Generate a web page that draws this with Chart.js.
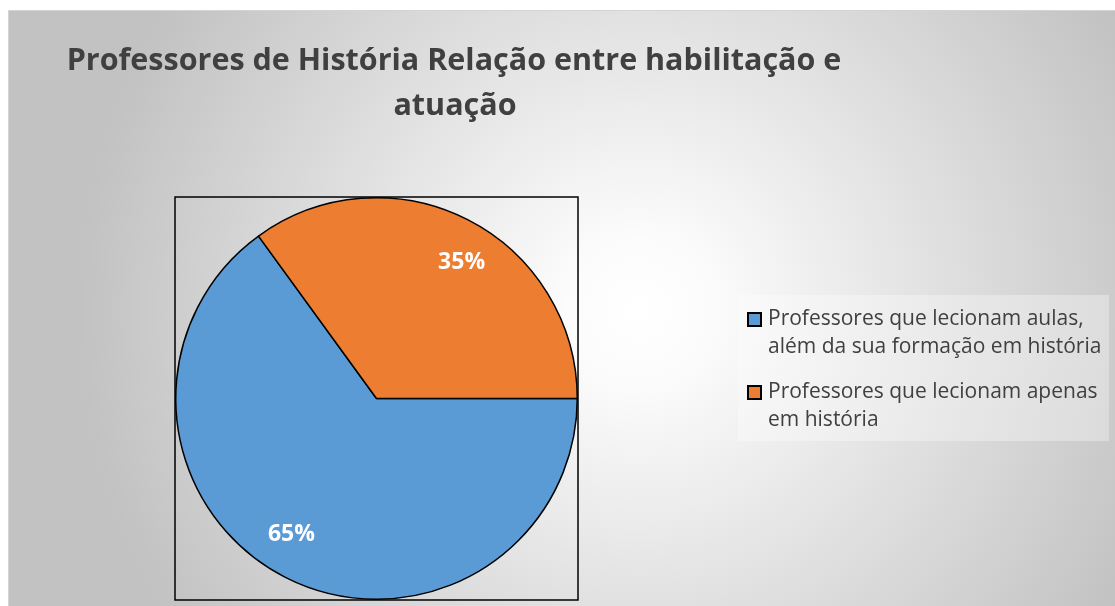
<!DOCTYPE html>
<html>
<head>
<meta charset="utf-8">
<script src="https://cdn.jsdelivr.net/npm/chart.js@4"></script>
<style>
html,body{margin:0;padding:0;background:#ffffff;}
#wrap{position:absolute;left:8px;top:10px;width:1107px;height:596px;}
canvas{display:block;}
</style>
</head>
<body>
<div id="wrap"><canvas id="c" width="1107" height="596"></canvas></div>
<script>
const titleLines = ['Professores de História Relação entre habilitação e', 'atuação'];
const categories = [
  ['Professores que lecionam aulas,', 'além da sua formação em história'],
  ['Professores que lecionam apenas', 'em história']
];
const values = [65, 35];
const colors = ['#5B9BD5', '#ED7D31'];

const FONT = '"Open Sans", "Noto Sans", sans-serif';

const bgPlugin = {
  id: 'bg',
  beforeDraw(chart) {
    const {ctx, width, height} = chart;
    ctx.save();
    const g = ctx.createRadialGradient(630, 300, 0, 630, 300, 560);
    g.addColorStop(0, '#ffffff');
    g.addColorStop(0.12, '#fcfcfc');
    g.addColorStop(1, '#c2c2c2');
    ctx.fillStyle = g;
    ctx.fillRect(0, 0, width, height);
    ctx.strokeStyle = '#d4d4d4';
    ctx.lineWidth = 1;
    ctx.strokeRect(0.5, 0.5, width, height);
    ctx.restore();
  },
  afterDatasetsDraw(chart) {
    const {ctx, chartArea: a} = chart;
    ctx.save();
    // plot-area frame
    ctx.strokeStyle = '#000000';
    ctx.lineWidth = 1.5;
    ctx.strokeRect(a.left, a.top, a.right - a.left, a.bottom - a.top);
    // data labels
    const meta = chart.getDatasetMeta(0);
    const total = values.reduce((s, v) => s + v, 0);
    ctx.fillStyle = '#ffffff';
    ctx.font = 'bold 23px ' + FONT;
    ctx.textAlign = 'center';
    ctx.textBaseline = 'middle';
    meta.data.forEach((arc, i) => {
      const p = arc.getProps(['x', 'y', 'startAngle', 'endAngle', 'outerRadius'], true);
      const mid = (p.startAngle + p.endAngle) / 2 + 5 * Math.PI / 180;
      const r = p.outerRadius * 0.8;
      const pct = Math.round(values[i] / total * 100) + '%';
      ctx.fillText(pct, p.x + Math.cos(mid) * r, p.y + Math.sin(mid) * r);
    });
    // title
    ctx.fillStyle = '#404040';
    ctx.font = 'bold 30.5px ' + FONT;
    ctx.textAlign = 'center';
    ctx.textBaseline = 'alphabetic';
    ctx.fillText(titleLines[0], 446, 60);
    ctx.fillText(titleLines[1], 447, 105);
    // legend
    ctx.fillStyle = 'rgba(255,255,255,0.32)';
    ctx.fillRect(730, 285, 371, 146);
    ctx.font = '21px ' + FONT;
    ctx.textAlign = 'left';
    const itemTop = [315, 388];
    categories.forEach((lines, i) => {
      const y0 = itemTop[i];
      ctx.fillStyle = colors[i];
      ctx.fillRect(740, y0 - 12, 13, 13);
      ctx.strokeStyle = '#000000';
      ctx.lineWidth = 2;
      ctx.strokeRect(740, y0 - 12, 13, 13);
      ctx.fillStyle = '#404040';
      lines.forEach((t, j) => ctx.fillText(t, 760, y0 + j * 28));
    });
    ctx.restore();
  }
};

new Chart(document.getElementById('c'), {
  type: 'pie',
  data: {
    labels: categories.map(l => l.join(' ')),
    datasets: [{
      data: values,
      backgroundColor: colors,
      borderColor: '#000000',
      borderWidth: 1.5,
      borderAlign: 'center'
    }]
  },
  options: {
    responsive: false,
    animation: false,
    rotation: 90,
    layout: {padding: {left: 167, right: 537, top: 187, bottom: 6}},
    plugins: {
      legend: {display: false},
      title: {display: false},
      tooltip: {enabled: false}
    }
  },
  plugins: [bgPlugin]
});
</script>
</body>
</html>
